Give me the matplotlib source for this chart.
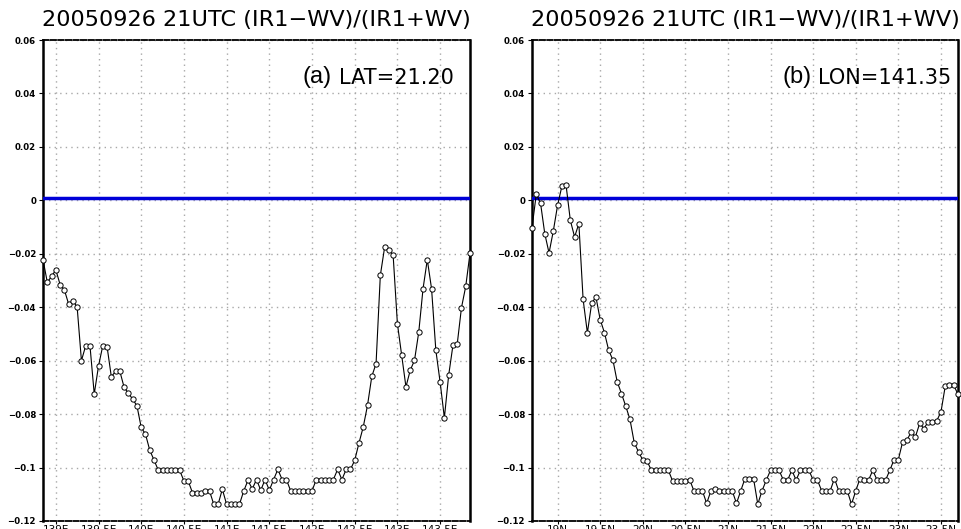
import numpy as np
import matplotlib
matplotlib.use("Agg")
import matplotlib.pyplot as plt

title_text = "20050926 21UTC (IR1\u2212WV)/(IR1+WV)"

# Panel (a): zonal cross-section at LAT=21.20 (longitude, deg E)
lon_start, lon_step = 138.85, 0.05
ratio_a = [
    -0.0222, -0.0306, -0.0285, -0.0260, -0.0315, -0.0335, -0.0388, -0.0375, -0.0400, -0.0600,
    -0.0544, -0.0544, -0.0725, -0.0620, -0.0544, -0.0547, -0.0660, -0.0640, -0.0640, -0.0700,
    -0.0722, -0.0744, -0.0769, -0.0850, -0.0875, -0.0935, -0.0972, -0.1010, -0.1010, -0.1010,
    -0.1010, -0.1010, -0.1010, -0.1050, -0.1050, -0.1094, -0.1094, -0.1094, -0.1088, -0.1088,
    -0.1138, -0.1138, -0.1081, -0.1138, -0.1138, -0.1138, -0.1138, -0.1088, -0.1048, -0.1080,
    -0.1045, -0.1085, -0.1045, -0.1085, -0.1045, -0.1007, -0.1045, -0.1045, -0.1087, -0.1087,
    -0.1087, -0.1087, -0.1087, -0.1087, -0.1045, -0.1045, -0.1045, -0.1045, -0.1045, -0.1007,
    -0.1045, -0.1007, -0.1007, -0.0973, -0.0908, -0.0848, -0.0767, -0.0659, -0.0611, -0.0281,
    -0.0176, -0.0185, -0.0206, -0.0462, -0.0580, -0.0698, -0.0636, -0.0599, -0.0493, -0.0331,
    -0.0222, -0.0331, -0.0561, -0.0680, -0.0814, -0.0655, -0.0543, -0.0539, -0.0402, -0.0322,
    -0.0198,
]

# Panel (b): meridional cross-section at LON=141.35 (latitude, deg N)
lat_start, lat_step = 18.70, 0.05
ratio_b = [
    -0.0102, 0.0022, -0.0010, -0.0125, -0.0197, -0.0115, -0.0019, 0.0052, 0.0056, -0.0075,
    -0.0137, -0.0087, -0.0371, -0.0496, -0.0386, -0.0361, -0.0446, -0.0495, -0.0561, -0.0598,
    -0.0679, -0.0723, -0.0770, -0.0820, -0.0907, -0.0941, -0.0972, -0.0975, -0.1010, -0.1010,
    -0.1010, -0.1010, -0.1010, -0.1050, -0.1050, -0.1050, -0.1050, -0.1045, -0.1087, -0.1087,
    -0.1087, -0.1134, -0.1087, -0.1080, -0.1087, -0.1087, -0.1087, -0.1087, -0.1134, -0.1087,
    -0.1041, -0.1041, -0.1041, -0.1137, -0.1087, -0.1047, -0.1010, -0.1010, -0.1010, -0.1047,
    -0.1047, -0.1010, -0.1047, -0.1010, -0.1010, -0.1010, -0.1047, -0.1047, -0.1087, -0.1087,
    -0.1087, -0.1041, -0.1087, -0.1087, -0.1087, -0.1137, -0.1087, -0.1041, -0.1047, -0.1047,
    -0.1010, -0.1047, -0.1047, -0.1047, -0.1010, -0.0970, -0.0970, -0.0904, -0.0898, -0.0867,
    -0.0885, -0.0835, -0.0854, -0.0829, -0.0829, -0.0825, -0.0792, -0.0696, -0.0692, -0.0692,
    -0.0726,
]

threshold = 0.001

xticks_a = [139.0, 139.5, 140.0, 140.5, 141.0, 141.5, 142.0, 142.5, 143.0, 143.5]
xlabels_a = ["139E", "139.5E", "140E", "140.5E", "141E", "141.5E", "142E", "142.5E", "143E", "143.5E"]
xticks_b = [19.0, 19.5, 20.0, 20.5, 21.0, 21.5, 22.0, 22.5, 23.0, 23.5]
xlabels_b = ["19N", "19.5N", "20N", "20.5N", "21N", "21.5N", "22N", "22.5N", "23N", "23.5N"]
yticks = [0.06, 0.04, 0.02, 0.0, -0.02, -0.04, -0.06, -0.08, -0.1, -0.12]
ylabels = ["0.06", "0.04", "0.02", "0", "\u22120.02", "\u22120.04", "\u22120.06", "\u22120.08", "\u22120.1", "\u22120.12"]

panel_tag = ["(a)", "(b)"]
panel_text = ["LAT=21.20", "LON=141.35"]

W, H = 961, 529
fig = plt.figure(figsize=(W / 100, H / 100), dpi=100)

def make_panel(rect, x0, dx, vals, xticks, xlabels, tag, txt, tag_x, txt_x):
    ax = fig.add_axes(rect)
    x = x0 + dx * np.arange(len(vals))
    ax.set_xlim(x[0], x[-1])
    ax.set_ylim(-0.12, 0.06)
    ax.set_xticks(xticks)
    ax.set_xticklabels(xlabels)
    ax.set_yticks(yticks)
    ax.set_yticklabels(ylabels)
    ax.grid(True, color="#a8a8a8", linestyle=(0, (1, 3)), linewidth=1.0)
    ax.set_axisbelow(True)
    ax.axhline(threshold, color="#0000d8", linewidth=2.5, zorder=3)
    ax.plot(x, vals, color="black", linewidth=0.8, marker="o", markersize=3.8,
            markerfacecolor="white", markeredgecolor="black", markeredgewidth=0.7,
            zorder=4, clip_on=False)
    for s in ["left", "right"]:
        ax.spines[s].set_linewidth(1.8)
        ax.spines[s].set_color("black")
    for s in ["top", "bottom"]:
        ax.spines[s].set_linewidth(1.3)
        ax.spines[s].set_color("black")
        ax.spines[s].set_linestyle((0, (3, 1.2)))
    ax.tick_params(axis="y", direction="out", length=3, width=0.8, pad=2,
                   labelsize=6.2)
    ax.tick_params(axis="x", direction="out", length=2, width=0.8, pad=1,
                   labelsize=7.5)
    for lab in ax.get_yticklabels():
        lab.set_fontweight("bold")
    ax.text(tag_x, 0.923, tag, transform=ax.transAxes, ha="left", va="center",
            fontsize=17, family="Liberation Sans")
    ax.text(txt_x, 0.92, txt, transform=ax.transAxes, ha="left", va="center",
            fontsize=15, family="DejaVu Sans")
    cx = rect[0] + rect[2] / 2
    fig.text(cx, 1 - 20 / H, title_text, ha="center", va="center", fontsize=16.1,
             family="DejaVu Sans")
    return ax

rect_a = [43 / W, 8 / H, 427 / W, 481 / H]
rect_b = [532 / W, 8 / H, 426 / W, 481 / H]
ax_a = make_panel(rect_a, lon_start, lon_step, ratio_a, xticks_a, xlabels_a,
                  panel_tag[0], panel_text[0], 0.607, 0.694)
ax_b = make_panel(rect_b, lat_start, lat_step, ratio_b, xticks_b, xlabels_b,
                  panel_tag[1], panel_text[1], 0.587, 0.672)

fig.savefig("out.png", dpi=100)
